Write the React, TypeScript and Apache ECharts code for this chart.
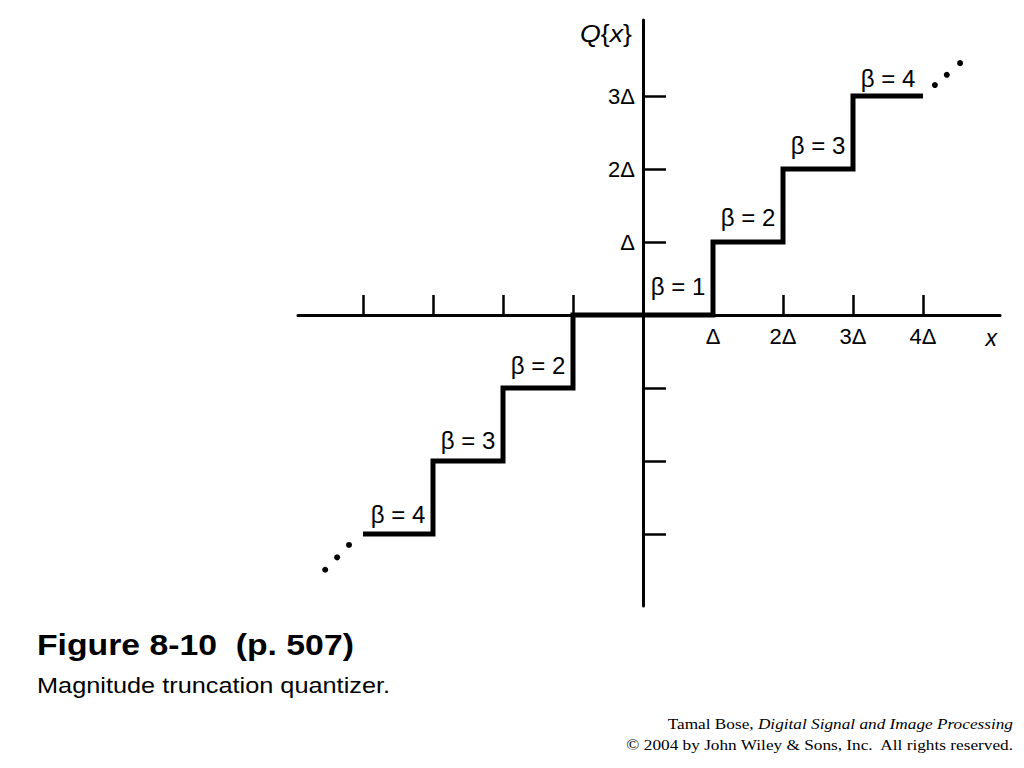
import React, { useEffect, useRef } from "react";
import * as echarts from "echarts";

// Staircase corners (step: 'end' → horizontal first, then vertical)
const stepX = [-4, -3, -2, -1, 1, 2, 3, 4];
const stepLevel = [-3, -2, -1, 0, 1, 2, 3, 3];

// β annotations: segment midpoints and levels
const betaX = [0.5, 1.5, 2.5, 3.5, -1.5, -2.5, -3.5];
const betaY = [0, 1, 2, 3, -1, -2, -3];
const betaText = ["β = 1", "β = 2", "β = 3", "β = 4", "β = 2", "β = 3", "β = 4"];

// continuation dots
const dotX = [4.17, 4.34, 4.53, -4.54, -4.37, -4.2];
const dotY = [3.15, 3.29, 3.45, -3.49, -3.32, -3.15];

// axis ticks and labels
const xTicks = [-4, -3, -2, -1, 1, 2, 3, 4];
const xLabelValues = [1, 2, 3, 4];
const yTicks = [-3, -2, -1, 1, 2, 3];
const yLabelValues = [1, 2, 3];
const deltaLabels: Record<string, string> = { "1": "Δ", "2": "2Δ", "3": "3Δ", "4": "4Δ" };

const xMin = -345 / 70;
const xMax = 357 / 70;
const yMin = -291 / 73;
const yMax = 295 / 73;

// label placement (pixel gaps above each step, style only)
const betaGap = [16, 12, 11, 5, 10, 8, 7];

export default function App() {
  const ref = useRef<HTMLDivElement>(null);
  useEffect(() => {
    if (!ref.current) return;
    const chart = echarts.init(ref.current, null, { renderer: "svg" });
    const sans = "Liberation Sans, Arial, Helvetica, sans-serif";
    const serif = "Liberation Serif, Times New Roman, serif";
    chart.setOption({
      animation: false,
      backgroundColor: "#ffffff",
      grid: { left: 298, right: 24, top: 20, bottom: 162 },
      xAxis: {
        type: "value",
        position: "bottom",
        offset: -291,
        min: xMin,
        max: xMax,
        splitLine: { show: false },
        axisLine: { onZero: false, lineStyle: { color: "#000", width: 3 } },
        axisTick: {
          show: true,
          inside: true,
          length: 20,
          customValues: xTicks,
          lineStyle: { color: "#000", width: 2.5 },
        },
        axisLabel: {
          show: true,
          customValues: xLabelValues,
          margin: 10,
          fontFamily: sans,
          fontSize: 22,
          color: "#000",
          formatter: (v: number) => deltaLabels[String(Math.round(v))] || "",
        },
        name: "x",
        nameLocation: "end",
        nameGap: -3,
        nameTextStyle: {
          fontFamily: sans,
          fontStyle: "italic",
          fontSize: 23,
          color: "#000",
          align: "right",
          verticalAlign: "top",
          padding: [11, 0, 0, 0],
        },
      },
      yAxis: {
        type: "value",
        position: "left",
        offset: -345,
        min: yMin,
        max: yMax,
        splitLine: { show: false },
        axisLine: { onZero: false, lineStyle: { color: "#000", width: 3 } },
        axisTick: {
          show: true,
          inside: true,
          length: 23,
          customValues: yTicks,
          lineStyle: { color: "#000", width: 2.5 },
        },
        axisLabel: {
          show: true,
          customValues: yLabelValues,
          margin: 8,
          fontFamily: sans,
          fontSize: 22,
          color: "#000",
          formatter: (v: number) => deltaLabels[String(Math.round(v))] || "",
        },
      },
      graphic: [
        {
          type: "text",
          x: 606,
          y: 34,
          scaleX: 1.16,
          style: {
            text: "{i|Q}{n|{}{i|x}}",
            align: "center",
            verticalAlign: "middle",
            fontFamily: sans,
            fontSize: 23,
            fill: "#000",
            rich: {
              i: { fontFamily: sans, fontSize: 23, fontStyle: "italic", fill: "#000" },
              n: { fontFamily: sans, fontSize: 23, fill: "#000" },
            },
          },
        },
        {
          type: "text",
          x: 37,
          y: 645,
          scaleX: 1.125,
          style: {
            text: "Figure 8-10  (p. 507)",
            align: "left",
            verticalAlign: "middle",
            fontFamily: sans,
            fontSize: 30,
            fontWeight: "bold",
            fill: "#000",
          },
        },
        {
          type: "text",
          x: 37,
          y: 685,
          scaleX: 1.125,
          style: {
            text: "Magnitude truncation quantizer.",
            align: "left",
            verticalAlign: "middle",
            fontFamily: sans,
            fontSize: 22.5,
            fill: "#000",
          },
        },
        {
          type: "text",
          x: 1013,
          y: 724,
          scaleX: 1.135,
          style: {
            text: "Tamal Bose, {i|Digital Signal and Image Processing}",
            align: "right",
            verticalAlign: "middle",
            fontFamily: serif,
            fontSize: 15.2,
            fill: "#000",
            rich: {
              i: { fontFamily: serif, fontSize: 15.2, fontStyle: "italic", fill: "#000" },
            },
          },
        },
        {
          type: "text",
          x: 1013,
          y: 745,
          scaleX: 1.135,
          style: {
            text: "© 2004 by John Wiley & Sons, Inc.  All rights reserved.",
            align: "right",
            verticalAlign: "middle",
            fontFamily: serif,
            fontSize: 15.2,
            fill: "#000",
          },
        },
      ],
      series: [
        {
          type: "line",
          step: "end",
          data: stepX.map((x, i) => [x, stepLevel[i]]),
          showSymbol: false,
          lineStyle: { color: "#000", width: 5, join: "miter", cap: "butt" },
          z: 3,
        },
        {
          type: "scatter",
          data: betaX.map((x, i) => ({
            value: [x, betaY[i]],
            label: { show: true, position: "top", distance: betaGap[i], offset: [-2, 0] },
          })),
          symbolSize: 2,
          itemStyle: { color: "rgba(0,0,0,0)" },
          label: {
            show: true,
            position: "top",
            distance: 9,
            fontFamily: sans,
            fontSize: 24,
            color: "#000",
            opacity: 1,
            formatter: (p: any) => betaText[p.dataIndex],
          },
          labelLayout: { hideOverlap: false },
          emphasis: { disabled: true },
          z: 4,
        },
        {
          type: "scatter",
          data: dotX.map((x, i) => [x, dotY[i]]),
          symbol: "circle",
          symbolSize: 6,
          itemStyle: { color: "#000", opacity: 1 },
          emphasis: { disabled: true },
          z: 4,
        },
      ],
    });
    return () => chart.dispose();
  }, []);
  return (
    <div
      ref={ref}
      style={{ position: "fixed", left: 0, top: 0, width: 1024, height: 768, background: "#fff" }}
    />
  );
}
